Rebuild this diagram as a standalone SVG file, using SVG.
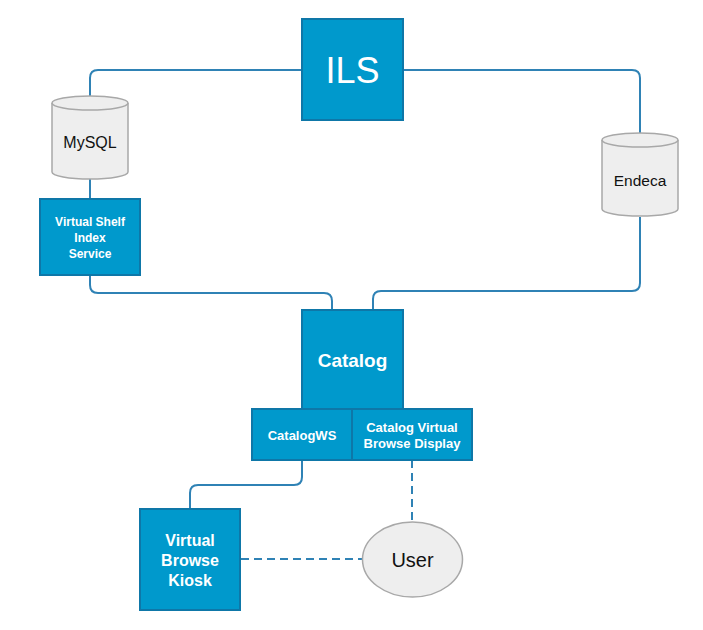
<svg xmlns="http://www.w3.org/2000/svg" width="703" height="630" viewBox="0 0 703 630">
<style>
.box{fill:#0099cc;stroke:#0e77a8;stroke-width:2}
.db{fill:#eeeeee;stroke:#a8a8a8;stroke-width:1.5}
.wt{fill:#ffffff;font-family:"Liberation Sans",Arial,sans-serif;text-anchor:middle}
.bt{fill:#111111;font-family:"Liberation Sans",Arial,sans-serif;text-anchor:middle}
.ln{fill:none;stroke:#2f82b5;stroke-width:2}
.dl{fill:none;stroke:#2f82b5;stroke-width:2;stroke-dasharray:8,5}
</style>
<rect width="703" height="630" fill="#ffffff"/>
<g id="connectors">
<path class="ln" d="M302,70 H98 Q90,70 90,78 V104"/>
<path class="ln" d="M403,70 H632 Q640,70 640,78 V142"/>
<path class="ln" d="M90,179 V199"/>
<path class="ln" d="M90,275 V285 Q90,293 98,293 H324 Q332,293 332,301 V310"/>
<path class="ln" d="M640,217 V283 Q640,291 632,291 H381 Q373,291 373,299 V310"/>
<path class="ln" d="M302,460 V477 Q302,485 294,485 H198 Q190,485 190,493 V509"/>
<path class="dl" d="M412,460 V522"/>
<path class="dl" d="M241,559 H362"/>
</g>
<g id="ils">
<rect class="box" x="302" y="19" width="101" height="101"/>
<text class="wt" x="352.5" y="83" font-size="36">ILS</text>
</g>
<g id="mysql">
<path class="db" d="M52,103 A38,7 0 0 1 128,103 V172 A38,7 0 0 1 52,172 Z"/>
<path class="db" d="M52,103 A38,7 0 0 0 128,103" fill="none"/>
<text class="bt" x="90" y="148" font-size="16">MySQL</text>
</g>
<g id="endeca">
<path class="db" d="M602,140 A38,7 0 0 1 678,140 V209 A38,7 0 0 1 602,209 Z"/>
<path class="db" d="M602,140 A38,7 0 0 0 678,140" fill="none"/>
<text class="bt" x="640" y="186" font-size="15.5">Endeca</text>
</g>
<g id="vsis">
<rect class="box" x="40" y="199" width="100" height="76"/>
<text class="wt" x="90" y="226" font-size="12" font-weight="bold">Virtual Shelf</text>
<text class="wt" x="90" y="242" font-size="12" font-weight="bold">Index</text>
<text class="wt" x="90" y="258" font-size="12" font-weight="bold">Service</text>
</g>
<g id="catalog">
<rect class="box" x="302" y="310" width="101" height="99"/>
<text class="wt" x="352.5" y="367" font-size="19" font-weight="bold">Catalog</text>
</g>
<g id="catalogws">
<rect class="box" x="252" y="409" width="100" height="51"/>
<text class="wt" x="302" y="440" font-size="13" font-weight="bold">CatalogWS</text>
</g>
<g id="cvbd">
<rect class="box" x="352" y="409" width="120" height="51"/>
<text class="wt" x="412" y="432" font-size="13" font-weight="bold">Catalog Virtual</text>
<text class="wt" x="412" y="448" font-size="13" font-weight="bold">Browse Display</text>
</g>
<g id="kiosk">
<rect class="box" x="140" y="509" width="100" height="101"/>
<text class="wt" x="190" y="546" font-size="16" font-weight="bold">Virtual</text>
<text class="wt" x="190" y="566" font-size="16" font-weight="bold">Browse</text>
<text class="wt" x="190" y="586" font-size="16" font-weight="bold">Kiosk</text>
</g>
<g id="user">
<ellipse cx="412.5" cy="559.5" rx="50" ry="37.5" fill="#eeeeee" stroke="#a8a8a8" stroke-width="1.5"/>
<text class="bt" x="412.5" y="566.5" font-size="20">User</text>
</g>
</svg>
